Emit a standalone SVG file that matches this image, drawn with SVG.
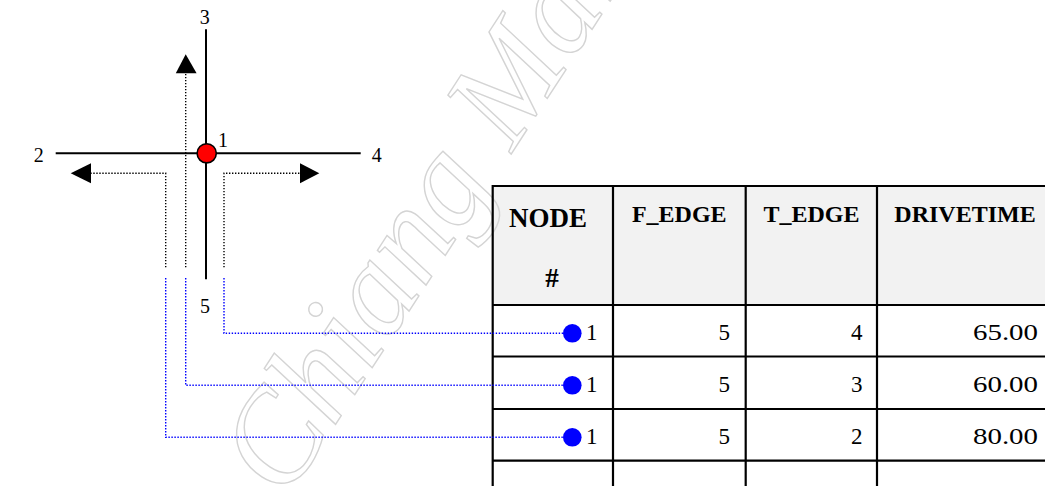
<svg xmlns="http://www.w3.org/2000/svg" width="1045" height="486" viewBox="0 0 1045 486">
  <style>
    .lbl { font-family: "Liberation Serif", "Times New Roman", serif; font-size: 20px; fill: #000; }
    .hdr { font-family: "Liberation Serif", "Times New Roman", serif; font-weight: bold; font-size: 24px; fill: #000; }
    .hdr-lg { font-size: 27px; }
    .cell { font-family: "Liberation Serif", "Times New Roman", serif; font-size: 23px; fill: #000; }
    .road { stroke: #000; stroke-width: 2; fill: none; }
    .turn { stroke: #000; stroke-width: 1.4; stroke-dasharray: 1.4 1.6; fill: none; }
    .link { stroke: #0000ff; stroke-width: 1.4; stroke-dasharray: 1.4 1.6; fill: none; }
    .grid { stroke: #000; stroke-width: 2.2; fill: none; }
    .head { fill: #000; stroke: none; }
    .dot { fill: #0000ff; }
    .wm { font-family: "Liberation Serif", "Times New Roman", serif; font-style: italic; font-size: 130px; fill: none; stroke: #d4d4d4; stroke-width: 1.4; }
  </style>

  <rect x="0" y="0" width="1045" height="486" fill="#fff"/>

  <!-- table header background -->
  <rect id="table-header-bg" x="492.7" y="186" width="560" height="119" fill="#f2f2f2"/>

  <!-- background watermark -->
  <text class="wm" transform="translate(285.7,501) rotate(-57)">Chiang Mai</text>

  <!-- turn table -->
  <g id="turn-table">
    <g class="grid">
      <line x1="492.7" y1="186" x2="1050" y2="186"/>
      <line x1="492.7" y1="305" x2="1050" y2="305"/>
      <line x1="492.7" y1="356.5" x2="1050" y2="356.5"/>
      <line x1="492.7" y1="409" x2="1050" y2="409"/>
      <line x1="492.7" y1="460.7" x2="1050" y2="460.7"/>
      <line x1="492.7" y1="185" x2="492.7" y2="490"/>
      <line x1="613" y1="185" x2="613" y2="490"/>
      <line x1="745.7" y1="185" x2="745.7" y2="490"/>
      <line x1="877" y1="185" x2="877" y2="490"/>
    </g>
    <g id="header-row">
      <text class="hdr hdr-lg" x="548" y="226.7" text-anchor="middle">NODE</text>
      <text class="hdr hdr-lg" x="552" y="286.7" text-anchor="middle">#</text>
      <text class="hdr" x="679.3" y="221.7" text-anchor="middle">F_EDGE</text>
      <text class="hdr" x="811.5" y="221.7" text-anchor="middle">T_EDGE</text>
      <text class="hdr" x="965" y="221.7" text-anchor="middle">DRIVETIME</text>
    </g>
    <g id="row-1">
      <circle class="dot" cx="572.3" cy="333.3" r="9.3"/>
      <text class="cell" x="586" y="340">1</text>
      <text class="cell" x="730" y="340" text-anchor="end">5</text>
      <text class="cell" x="862.5" y="340" text-anchor="end">4</text>
      <text class="cell" x="1038" y="340" text-anchor="end" textLength="65" lengthAdjust="spacingAndGlyphs">65.00</text>
    </g>
    <g id="row-2">
      <circle class="dot" cx="572.3" cy="385.3" r="9.3"/>
      <text class="cell" x="586" y="392">1</text>
      <text class="cell" x="730" y="392" text-anchor="end">5</text>
      <text class="cell" x="862.5" y="392" text-anchor="end">3</text>
      <text class="cell" x="1038" y="392" text-anchor="end" textLength="65" lengthAdjust="spacingAndGlyphs">60.00</text>
    </g>
    <g id="row-3">
      <circle class="dot" cx="572.3" cy="437.3" r="9.3"/>
      <text class="cell" x="586" y="444">1</text>
      <text class="cell" x="730" y="444" text-anchor="end">5</text>
      <text class="cell" x="862.5" y="444" text-anchor="end">2</text>
      <text class="cell" x="1038" y="444" text-anchor="end" textLength="65" lengthAdjust="spacingAndGlyphs">80.00</text>
    </g>
  </g>

  <!-- intersection: edges 2-4 and 3-5 crossing at node 1 -->
  <g id="edges">
    <line class="road" x1="55.7" y1="153.3" x2="360.7" y2="153.3"/>
    <line class="road" x1="206" y1="29.3" x2="206" y2="279.3"/>
  </g>

  <!-- connectors: turn movements and links to table rows -->
  <g id="connectors">
    <polyline class="turn" points="185.7,267.3 185.7,72"/>
    <polygon class="head" points="185.7,54.3 175.8,73.3 196.6,73.3"/>
    <polyline class="turn" points="165.7,267.3 165.7,173.3 90,173.3"/>
    <polygon class="head" points="70.7,173.3 91,163.3 91,183.3"/>
    <polyline class="turn" points="224,267.3 224,173.3 301,173.3"/>
    <polygon class="head" points="319.3,173.3 300,163.3 300,183.3"/>

    <polyline class="link" points="224,278 224,333.3 563,333.3"/>
    <polyline class="link" points="185.7,278 185.7,385.3 563,385.3"/>
    <polyline class="link" points="165.7,278 165.7,437.3 563,437.3"/>
  </g>

  <g id="node-1">
    <circle cx="206.7" cy="153.3" r="9.6" fill="#ff0000" stroke="#000" stroke-width="1.6"/>
    <text class="lbl" x="223" y="146.7" text-anchor="middle">1</text>
  </g>
  <g id="node-2"><text class="lbl" x="38.7" y="162" text-anchor="middle">2</text></g>
  <g id="node-3"><text class="lbl" x="204.8" y="24.3" text-anchor="middle">3</text></g>
  <g id="node-4"><text class="lbl" x="376.7" y="162.3" text-anchor="middle">4</text></g>
  <g id="node-5"><text class="lbl" x="205" y="312.7" text-anchor="middle">5</text></g>
</svg>
